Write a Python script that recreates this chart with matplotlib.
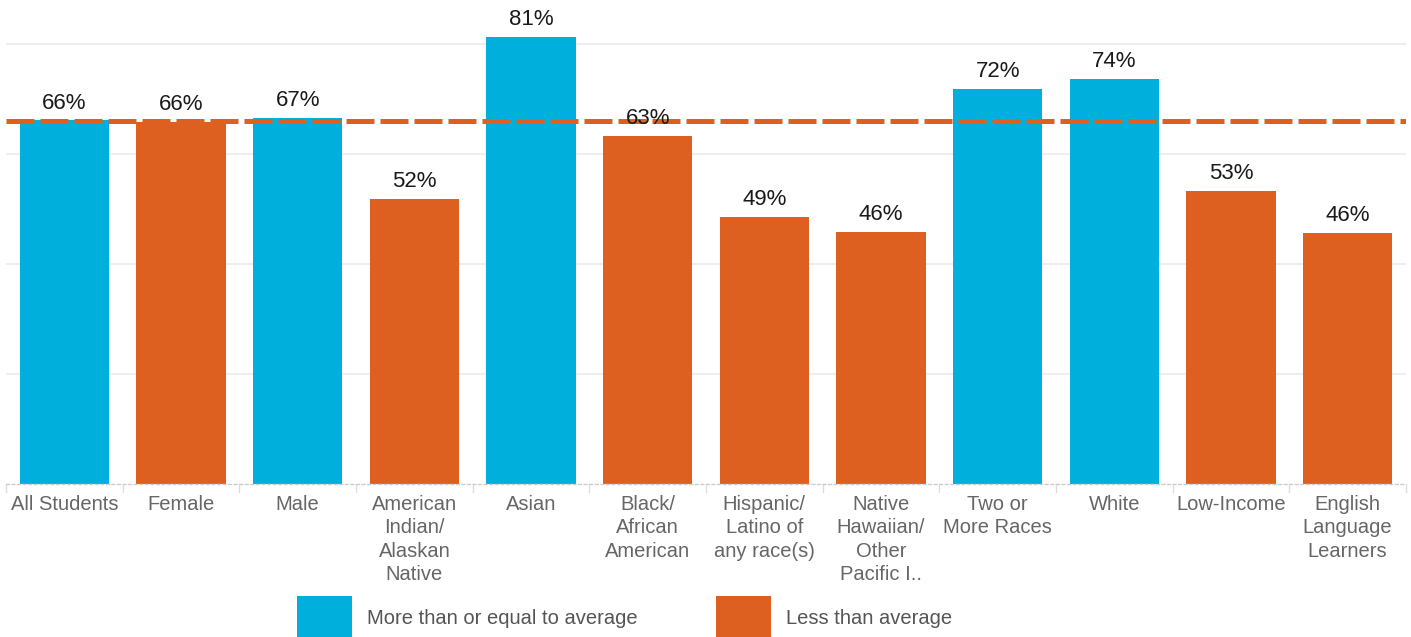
import matplotlib
matplotlib.use("Agg")
import matplotlib.pyplot as plt
from matplotlib.patches import Rectangle

categories = ["All Students", "Female", "Male", "American\nIndian/\nAlaskan\nNative", "Asian",
              "Black/\nAfrican\nAmerican", "Hispanic/\nLatino of\nany race(s)", "Native\nHawaiian/\nOther\nPacific I..",
              "Two or\nMore Races", "White", "Low-Income", "English\nLanguage\nLearners"]
values = [66.1, 65.8, 66.6, 51.8, 81.2, 63.2, 48.6, 45.9, 71.8, 73.6, 53.3, 45.6]
labels = ["66%", "66%", "67%", "52%", "81%", "63%", "49%", "46%", "72%", "74%", "53%", "46%"]
average = 66.06
legend_labels = ["More than or equal to average", "Less than average"]

BLUE = "#00AFDB"
ORANGE = "#DE6020"

plt.rcParams['font.family'] = ['Liberation Sans', 'DejaVu Sans']

W, H = 1411, 637
fig = plt.figure(figsize=(W / 100, H / 100), dpi=100)
ax = fig.add_axes([6 / W, (H - 484) / H, 1400 / W, 484 / H])

x = list(range(len(categories)))
colors = [BLUE if v >= average else ORANGE for v in values]
ax.bar(x, values, width=0.765, color=colors, zorder=2)

for xi, v, lab in zip(x, values, labels):
    ax.annotate(lab, (xi, v), xytext=(0, 5), textcoords="offset points",
                ha="center", va="bottom", fontsize=16, color="#1a1a1a", zorder=4)

ax.axhline(average, color=ORANGE, lw=3.6, dashes=(5.6, 1.2), zorder=3)

ax.set_xlim(-0.5, len(categories) - 0.5)
ax.set_ylim(0, 88)
ax.set_yticks([20, 40, 60, 80])
ax.yaxis.grid(True, color="#eeeeee", lw=1.5, zorder=0)
ax.tick_params(axis="y", left=False, labelleft=False)
ax.set_xticks(x)
ax.set_xticklabels(categories, fontsize=14.5, color="#666666", linespacing=1.29)
ax.tick_params(axis="x", length=0, pad=8)
for s in ["top", "right", "left"]:
    ax.spines[s].set_visible(False)
ax.spines["bottom"].set_color("#cccccc")
ax.spines["bottom"].set_linestyle((0, (2, 2)))
ax.spines["bottom"].set_linewidth(1)

# category separators
for b in [i - 0.5 for i in range(len(categories) + 1)]:
    ax.plot([b, b], [0, -1.5], color="#dddddd", lw=1, clip_on=False, zorder=1)

# legend
legend_items = [(297, BLUE, legend_labels[0]), (716, ORANGE, legend_labels[1])]
for px, col, txt in legend_items:
    fig.add_artist(Rectangle((px / W, 0), 55 / W, 41 / H, transform=fig.transFigure,
                             color=col, lw=0))
    fig.text((px + 70) / W, (H - 619) / H, txt, fontsize=14.5, color="#555555",
             ha="left", va="center")

fig.savefig("out.png", dpi=100)
